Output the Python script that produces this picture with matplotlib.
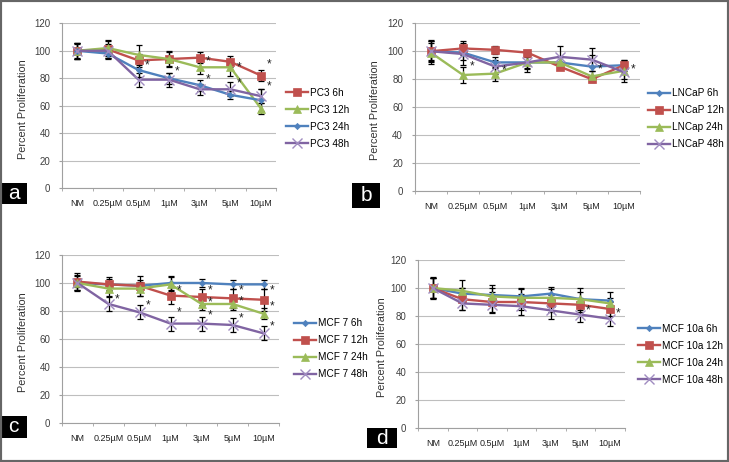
import matplotlib
matplotlib.use("Agg")
import matplotlib.pyplot as plt
from matplotlib.patches import Rectangle

plt.rcParams['font.family'] = ['Liberation Sans', 'DejaVu Sans']

doses = ["NM", "0.25µM", "0.5µM", "1µM", "3µM", "5µM", "10µM"]

# panel a - PC3
pc3_labels = ["PC3 6h", "PC3 12h", "PC3 24h", "PC3 48h"]
pc3_6h = [100, 101, 93, 94, 95, 92, 82]
pc3_12h = [100, 102, 97, 94, 88, 88, 58]
pc3_24h = [100, 98, 86, 80, 75, 68, 64]
pc3_48h = [100, 100, 79, 79, 72, 72, 67]
pc3_6h_err = [6, 6, 5, 6, 4, 4, 4]
pc3_12h_err = [6, 6, 7, 5, 5, 6, 4]
pc3_24h_err = [5, 4, 5, 4, 4, 3, 8]
pc3_48h_err = [6, 5, 5, 5, 4, 5, 5]
pc3_stars = [(2, 89), (3, 85), (4, 92), (4, 79), (5, 88), (5, 76), (6, 90), (6, 74)]

# panel b - LNCaP
lncap_labels = ["LNCaP 6h", "LNCaP 12h", "LNCap 24h", "LNCaP 48h"]
lncap_6h = [100, 99, 92, 92, 92, 89, 90]
lncap_12h = [100, 102, 101, 99, 89, 80, 90]
lncap_24h = [99, 83, 84, 92, 92, 82, 86]
lncap_48h = [100, 98, 89, 92, 96, 94, 85]
lncap_6h_err = [7, 5, 4, 4, 4, 8, 4]
lncap_12h_err = [8, 5, 3, 2, 2, 2, 3]
lncap_24h_err = [8, 6, 5, 7, 4, 4, 8]
lncap_48h_err = [6, 8, 5, 5, 8, 8, 5]
lncap_stars = [(1, 89), (2, 86), (5, 87), (6, 87)]

# panel c - MCF 7
mcf7_labels = ["MCF 7 6h", "MCF 7 12h", "MCF 7 24h", "MCF 7 48h"]
mcf7_6h = [100, 99, 98, 100, 100, 99, 99]
mcf7_12h = [101, 99, 98, 91, 90, 89, 88]
mcf7_24h = [100, 96, 96, 99, 85, 85, 78]
mcf7_48h = [100, 85, 79, 71, 71, 70, 64]
mcf7_6h_err = [6, 4, 4, 5, 3, 3, 3]
mcf7_12h_err = [6, 5, 7, 6, 6, 7, 8]
mcf7_24h_err = [5, 5, 5, 5, 4, 4, 4]
mcf7_48h_err = [3, 5, 5, 5, 5, 5, 5]
mcf7_stars = [(1, 88), (2, 84), (3, 95), (3, 79), (4, 95), (4, 86), (4, 77),
              (5, 95), (5, 87), (5, 75), (6, 95), (6, 83), (6, 69)]

# panel d - MCF 10a
mcf10_labels = ["MCF 10a 6h", "MCF 10a 12h", "MCF 10a 24h", "MCF 10a 48h"]
mcf10_6h = [100, 96, 95, 94, 96, 92, 91]
mcf10_12h = [100, 92, 90, 90, 89, 88, 85]
mcf10_24h = [100, 98, 94, 93, 93, 92, 89]
mcf10_48h = [100, 89, 88, 87, 84, 81, 78]
mcf10_6h_err = [8, 4, 7, 6, 5, 8, 6]
mcf10_12h_err = [7, 8, 7, 6, 6, 5, 5]
mcf10_24h_err = [7, 8, 6, 6, 6, 5, 4]
mcf10_48h_err = [7, 5, 6, 6, 6, 5, 5]
mcf10_stars = [(5, 84), (6, 82)]

blue = "#4F81BD"
red = "#C0504D"
green = "#9BBB59"
purple = "#8064A2"
styles = {
    "blue": dict(color=blue, marker="D", ms=3.2),
    "red": dict(color=red, marker="s", ms=6),
    "green": dict(color=green, marker="^", ms=5.5),
    "purple": dict(color=purple, marker="x", ms=6.5, mew=1.0, mec="#A08CC0"),
}

panels = [
    dict(rect=[0.085, 0.5924, 0.294, 0.3572], letter="a",
         box=(0, 183, 27, 21), leg=(0.392, 0.744), ylab=-0.159,
         series=[(pc3_6h, pc3_6h_err, "red"), (pc3_12h, pc3_12h_err, "green"),
                 (pc3_24h, pc3_24h_err, "blue"), (pc3_48h, pc3_48h_err, "purple")],
         labels=pc3_labels, stars=pc3_stars),
    dict(rect=[0.569, 0.5866, 0.309, 0.3630], letter="b",
         box=(352, 183, 28, 25), leg=(0.889, 0.743), ylab=-0.156,
         series=[(lncap_6h, lncap_6h_err, "blue"), (lncap_12h, lncap_12h_err, "red"),
                 (lncap_24h, lncap_24h_err, "green"), (lncap_48h, lncap_48h_err, "purple")],
         labels=lncap_labels, stars=lncap_stars),
    dict(rect=[0.085, 0.0844, 0.298, 0.3637], letter="c",
         box=(0, 416, 27, 22), leg=(0.403, 0.2446), ylab=-0.157,
         series=[(mcf7_6h, mcf7_6h_err, "blue"), (mcf7_12h, mcf7_12h_err, "red"),
                 (mcf7_24h, mcf7_24h_err, "green"), (mcf7_48h, mcf7_48h_err, "purple")],
         labels=mcf7_labels, stars=mcf7_stars),
    dict(rect=[0.5734, 0.0736, 0.2836, 0.3636], letter="d",
         box=(367, 428, 30, 20), leg=(0.875, 0.2327), ylab=-0.15,
         series=[(mcf10_6h, mcf10_6h_err, "blue"), (mcf10_12h, mcf10_12h_err, "red"),
                 (mcf10_24h, mcf10_24h_err, "green"), (mcf10_48h, mcf10_48h_err, "purple")],
         labels=mcf10_labels, stars=mcf10_stars),
]

W, H = 729, 462
fig = plt.figure(figsize=(W / 100, H / 100), dpi=100)
x = list(range(len(doses)))

for p in panels:
    ax = fig.add_axes(p["rect"])
    handles = []
    for (vals, err, key), lab in zip(p["series"], p["labels"]):
        st = styles[key]
        ax.errorbar(x, vals, yerr=err, fmt="none", ecolor="black",
                    elinewidth=0.9, capsize=2.2, capthick=0.9, zorder=2)
        h, = ax.plot(x, vals, color=st["color"], lw=1.7, marker=st["marker"],
                     ms=st["ms"], mew=st.get("mew", 0.5),
                     mec=st.get("mec", st["color"]), zorder=3, label=lab)
        handles.append(h)
    for cx, cy in p["stars"]:
        ax.text(cx + 0.27, cy, "*", fontsize=8.5, ha="center", va="center", color="#222222")
    ax.set_xlim(-0.5, 6.5)
    ax.set_ylim(0, 120)
    ax.set_yticks(range(0, 121, 20))
    ax.yaxis.grid(True, color="#BEBEBE", lw=0.8)
    ax.set_axisbelow(True)
    ax.set_xticks(x)
    ax.set_xticklabels(doses, fontsize=6.5, color="#222222")
    ax.set_xticks([i + 0.5 for i in range(-1, 7)], minor=True)
    ax.tick_params(axis="x", which="major", length=0, pad=8)
    ax.tick_params(axis="x", which="minor", length=2.5, color="#A0A0A0", direction="out")
    ax.tick_params(axis="y", length=2.5, color="#A0A0A0", labelsize=7,
                   labelcolor="#404040", pad=6)
    for s in ["top", "right"]:
        ax.spines[s].set_visible(False)
    ax.spines["left"].set_color("#A0A0A0")
    ax.spines["bottom"].set_color("#A0A0A0")
    ax.spines["left"].set_linewidth(0.8)
    ax.spines["bottom"].set_linewidth(0.8)
    ax.set_ylabel("Percent Proliferation", fontsize=7.8, color="#333333")
    ax.yaxis.set_label_coords(p["ylab"], 0.48)
    ax.legend(handles=handles, loc="center left", bbox_to_anchor=p["leg"],
              bbox_transform=fig.transFigure, frameon=False, fontsize=7.2,
              labelspacing=0.7, handlelength=2.2, handletextpad=0.2,
              borderaxespad=0, borderpad=0)

    bx, by, bw, bh = p["box"]
    fig.patches.append(Rectangle((bx / W, 1 - (by + bh) / H), bw / W, bh / H,
                                 transform=fig.transFigure, facecolor="black",
                                 edgecolor="none"))
    fig.text((bx + bw / 2) / W, 1 - (by + bh / 2) / H, p["letter"], color="white",
             fontsize=15, ha="center", va="center")

fig.patches.append(Rectangle((0, 0), 1, 1, transform=fig.transFigure, fill=False,
                             edgecolor="#666666", linewidth=3))

fig.savefig("out.png", dpi=100)
